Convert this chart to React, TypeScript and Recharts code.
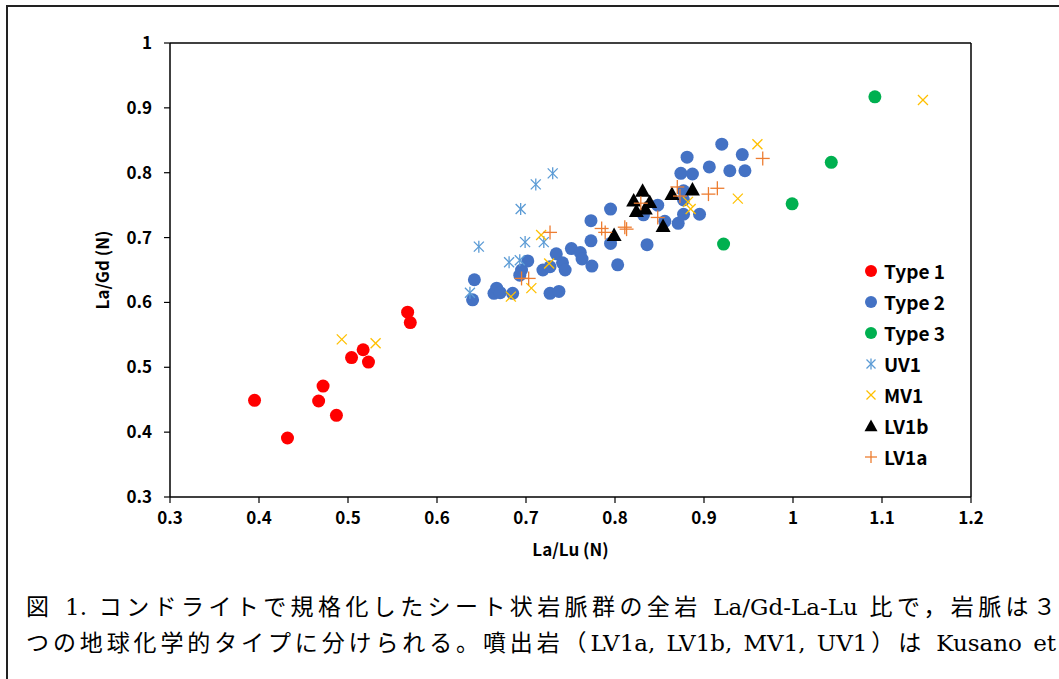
import React from 'react';
import { ScatterChart, Scatter, XAxis, YAxis, ReferenceLine } from 'recharts';

type Pt = { x: number; y: number };

// La/Lu (N) vs La/Gd (N)
const type1: Pt[] = [
  { x: 0.395, y: 0.449 }, { x: 0.432, y: 0.391 }, { x: 0.467, y: 0.448 },
  { x: 0.472, y: 0.471 }, { x: 0.487, y: 0.426 }, { x: 0.504, y: 0.515 },
  { x: 0.517, y: 0.527 }, { x: 0.523, y: 0.508 }, { x: 0.567, y: 0.585 },
  { x: 0.570, y: 0.569 },
];

const type2: Pt[] = [
  { x: 0.640, y: 0.604 }, { x: 0.642, y: 0.635 }, { x: 0.664, y: 0.614 },
  { x: 0.667, y: 0.622 }, { x: 0.671, y: 0.615 }, { x: 0.685, y: 0.614 },
  { x: 0.693, y: 0.642 }, { x: 0.695, y: 0.650 }, { x: 0.702, y: 0.664 },
  { x: 0.719, y: 0.650 }, { x: 0.727, y: 0.655 }, { x: 0.727, y: 0.614 },
  { x: 0.737, y: 0.617 }, { x: 0.734, y: 0.675 }, { x: 0.741, y: 0.661 },
  { x: 0.744, y: 0.650 }, { x: 0.751, y: 0.683 }, { x: 0.761, y: 0.677 },
  { x: 0.763, y: 0.667 }, { x: 0.773, y: 0.726 }, { x: 0.773, y: 0.695 },
  { x: 0.774, y: 0.656 }, { x: 0.795, y: 0.744 }, { x: 0.795, y: 0.691 },
  { x: 0.803, y: 0.658 }, { x: 0.832, y: 0.735 }, { x: 0.836, y: 0.689 },
  { x: 0.848, y: 0.750 }, { x: 0.856, y: 0.725 }, { x: 0.871, y: 0.722 },
  { x: 0.874, y: 0.799 }, { x: 0.877, y: 0.772 }, { x: 0.877, y: 0.758 },
  { x: 0.877, y: 0.736 }, { x: 0.881, y: 0.824 }, { x: 0.887, y: 0.798 },
  { x: 0.895, y: 0.736 }, { x: 0.906, y: 0.809 }, { x: 0.920, y: 0.844 },
  { x: 0.929, y: 0.803 }, { x: 0.943, y: 0.828 }, { x: 0.946, y: 0.803 },
];

const type3: Pt[] = [
  { x: 0.922, y: 0.690 }, { x: 0.999, y: 0.752 }, { x: 1.043, y: 0.816 },
  { x: 1.092, y: 0.917 },
];

const uv1: Pt[] = [
  { x: 0.637, y: 0.615 }, { x: 0.647, y: 0.686 }, { x: 0.681, y: 0.662 },
  { x: 0.693, y: 0.665 }, { x: 0.694, y: 0.744 }, { x: 0.699, y: 0.693 },
  { x: 0.711, y: 0.782 }, { x: 0.720, y: 0.693 }, { x: 0.730, y: 0.799 },
];

const mv1: Pt[] = [
  { x: 0.493, y: 0.543 }, { x: 0.531, y: 0.537 }, { x: 0.683, y: 0.609 },
  { x: 0.706, y: 0.622 }, { x: 0.717, y: 0.704 }, { x: 0.726, y: 0.660 },
  { x: 0.882, y: 0.755 }, { x: 0.885, y: 0.744 }, { x: 0.938, y: 0.760 },
  { x: 0.960, y: 0.844 }, { x: 1.146, y: 0.912 },
];

const lv1b: Pt[] = [
  { x: 0.799, y: 0.704 }, { x: 0.821, y: 0.757 }, { x: 0.824, y: 0.741 },
  { x: 0.831, y: 0.772 }, { x: 0.834, y: 0.745 }, { x: 0.839, y: 0.755 },
  { x: 0.854, y: 0.718 }, { x: 0.864, y: 0.767 }, { x: 0.887, y: 0.774 },
];

const lv1a: Pt[] = [
  { x: 0.695, y: 0.637 }, { x: 0.703, y: 0.637 }, { x: 0.727, y: 0.708 },
  { x: 0.785, y: 0.714 }, { x: 0.789, y: 0.708 }, { x: 0.811, y: 0.716 },
  { x: 0.813, y: 0.713 }, { x: 0.829, y: 0.753 }, { x: 0.848, y: 0.731 },
  { x: 0.870, y: 0.778 }, { x: 0.873, y: 0.764 }, { x: 0.905, y: 0.767 },
  { x: 0.915, y: 0.776 }, { x: 0.966, y: 0.822 },
];

const xTicks = [0.3, 0.4, 0.5, 0.6, 0.7, 0.8, 0.9, 1, 1.1, 1.2];
const yTicks = [0.3, 0.4, 0.5, 0.6, 0.7, 0.8, 0.9, 1];

const captionLines = [
  '図 1. コンドライトで規格化したシート状岩脈群の全岩 La/Gd-La-Lu 比で，岩脈は３',
  'つの地球化学的タイプに分けられる。噴出岩（LV1a, LV1b, MV1, UV1）は Kusano et',
];

const RED = '#FF0000';
const BLUE = '#4472C4';
const GREEN = '#00B050';
const LIGHTBLUE = '#5B9BD5';
const GOLD = '#FFC000';
const ORANGE = '#ED7D31';

const fmt = (v: number) => String(Math.round(v * 10) / 10);

// marker shapes, drawn around (cx, cy)
const dot = (color: string, r = 6.5) => (p: any) => (
  <circle cx={p.cx} cy={p.cy} r={r} fill={color} />
);
const tri = (s = 7.5) => (p: any) => (
  <polygon
    points={`${p.cx},${p.cy - s} ${p.cx + s},${p.cy + s * 0.8} ${p.cx - s},${p.cy + s * 0.8}`}
    fill="#000"
  />
);
const ex = (color: string, s = 5) => (p: any) => (
  <g stroke={color} strokeWidth={1.3}>
    <line x1={p.cx - s} y1={p.cy - s} x2={p.cx + s} y2={p.cy + s} />
    <line x1={p.cx - s} y1={p.cy + s} x2={p.cx + s} y2={p.cy - s} />
  </g>
);
const star = (color: string, s = 5) => (p: any) => (
  <g stroke={color} strokeWidth={1.3}>
    <line x1={p.cx - s} y1={p.cy - s} x2={p.cx + s} y2={p.cy + s} />
    <line x1={p.cx - s} y1={p.cy + s} x2={p.cx + s} y2={p.cy - s} />
    <line x1={p.cx} y1={p.cy - s - 1} x2={p.cx} y2={p.cy + s + 1} />
  </g>
);
const plus = (color: string, s = 7) => (p: any) => (
  <g stroke={color} strokeWidth={1.3}>
    <line x1={p.cx - s} y1={p.cy} x2={p.cx + s} y2={p.cy} />
    <line x1={p.cx} y1={p.cy - s} x2={p.cx} y2={p.cy + s} />
  </g>
);

const series = [
  { name: 'Type 1', data: type1, shape: dot(RED), icon: dot(RED, 6) },
  { name: 'Type 2', data: type2, shape: dot(BLUE), icon: dot(BLUE, 6) },
  { name: 'Type 3', data: type3, shape: dot(GREEN), icon: dot(GREEN, 6) },
  { name: 'UV1', data: uv1, shape: star(LIGHTBLUE), icon: star(LIGHTBLUE, 4.5) },
  { name: 'MV1', data: mv1, shape: ex(GOLD), icon: ex(GOLD, 4.5) },
  { name: 'LV1b', data: lv1b, shape: tri(), icon: tri(6.5) },
  { name: 'LV1a', data: lv1a, shape: plus(ORANGE), icon: plus(ORANGE, 6) },
];

const font = '"Noto Sans CJK JP", "Noto Sans", sans-serif';
const tickStyle = { fill: '#000', fontSize: 17, fontWeight: 700, fontFamily: font };

export default function App() {
  return (
    <div style={{ position: 'absolute', left: 0, top: 0, width: 1059, height: 679, overflow: 'hidden', background: '#fff' }}>
      <div
        style={{
          position: 'absolute', left: 6, top: 5, width: 1100, height: 720,
          borderLeft: '2px solid #222', borderTop: '2px solid #222',
        }}
      />
      <div style={{ position: 'absolute', left: 0, top: 0 }}>
        <ScatterChart width={1059} height={570} margin={{ top: 43, right: 88, bottom: 0, left: 0 }} style={{ fontFamily: font }}>
          <XAxis
            type="number"
            dataKey="x"
            domain={[0.3, 1.2]}
            ticks={xTicks}
            tickFormatter={fmt}
            height={73}
            tickSize={6}
            tickMargin={9}
            axisLine={{ stroke: '#000', strokeWidth: 1.5 }}
            tickLine={{ stroke: '#000', strokeWidth: 1.2 }}
            tick={tickStyle}
            allowDataOverflow
            label={{ value: 'La/Lu (N)', position: 'insideBottom', offset: 14, fill: '#000', fontSize: 17, fontWeight: 700, fontFamily: font }}
          />
          <YAxis
            type="number"
            dataKey="y"
            domain={[0.3, 1]}
            ticks={yTicks}
            tickFormatter={fmt}
            width={170}
            tickSize={6}
            tickMargin={12}
            axisLine={{ stroke: '#000', strokeWidth: 1.5 }}
            tickLine={{ stroke: '#000', strokeWidth: 1.2 }}
            tick={tickStyle}
            allowDataOverflow
            label={{ value: 'La/Gd (N)', angle: -90, position: 'center', dx: 18, fill: '#000', fontSize: 17, fontWeight: 700, fontFamily: font }}
          />
          <ReferenceLine y={1} stroke="#000" strokeWidth={1.5} />
          <ReferenceLine x={1.2} stroke="#000" strokeWidth={1.5} />
          {series.map((s) => (
            <Scatter key={s.name} name={s.name} data={s.data} shape={s.shape} isAnimationActive={false} />
          ))}
        </ScatterChart>
      </div>
      <div style={{ position: 'absolute', left: 860, top: 255, fontFamily: font, fontWeight: 700, fontSize: 19, color: '#000' }}>
        {series.map((s) => (
          <div key={s.name} style={{ display: 'flex', alignItems: 'center', height: 31 }}>
            <svg width={22} height={20} style={{ display: 'block' }}>
              {s.icon({ cx: 11, cy: 10 })}
            </svg>
            <span style={{ marginLeft: 2, lineHeight: '20px' }}>{s.name}</span>
          </div>
        ))}
      </div>
      <div
        style={{
          position: 'absolute', left: 26, top: 589, width: 1030,
          fontFamily: '"DejaVu Serif", "Noto Sans CJK JP", serif', fontSize: 23, color: '#000',
        }}
      >
        {captionLines.map((t) => (
          <div key={t} style={{ height: 36, lineHeight: '36px', textAlign: 'justify', textAlignLast: 'justify', whiteSpace: 'nowrap' }}>
            {t}
          </div>
        ))}
      </div>
    </div>
  );
}
